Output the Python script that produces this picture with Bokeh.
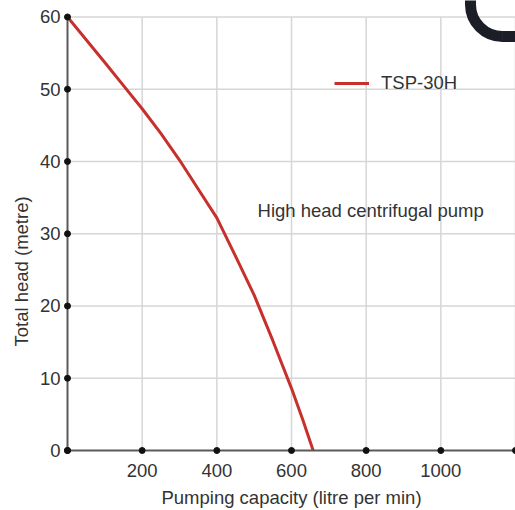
import math
from bokeh.plotting import figure
from bokeh.models import Range1d, FixedTicker, Label, Legend, LegendItem, Title
from bokeh.embed import file_html
from bokeh.resources import INLINE

# ---- data ----
capacity = [0, 100, 150, 200, 250, 300, 350, 400, 450, 500, 550, 600, 630, 658]
head = [60, 53.7, 50.5, 47.3, 43.9, 40.2, 36.2, 32.2, 26.9, 21.5, 15.2, 8.6, 4.3, 0]
x_label_ticks = [200, 400, 600, 800, 1000]
x_ticks = [0, 200, 400, 600, 800, 1000, 1200]
y_ticks = [0, 10, 20, 30, 40, 50, 60]
series_name = "TSP-30H"
note = "High head centrifugal pump"
x_title = "Pumping capacity (litre per min)"
y_title = "Total head (metre)"

FONT = "Liberation Sans"
FS = "18.5px"
TXT = "#333333"

p = figure(width=515, height=510, output_backend="svg", toolbar_location=None,
           x_range=Range1d(0, 1200), y_range=Range1d(0, 62.28),
           min_border_left=67, min_border_right=0, min_border_top=0,
           min_border_bottom=60)
p.outline_line_color = None
p.xgrid.visible = False
p.ygrid.visible = False

# grid lines limited to the data box
p.segment(x0=0, x1=1200, y0=y_ticks[1:], y1=y_ticks[1:],
          line_color="#d6d6d6", line_width=1.5)
p.segment(x0=x_ticks[1:], x1=x_ticks[1:], y0=0, y1=60,
          line_color="#d6d6d6", line_width=1.5)

# decorative dark ring fragment (top right)
ring = "#1b1e26"
p.arc(x=1165.2, y=61.73, radius=32, radius_units="screen",
      start_angle=math.pi, end_angle=1.5 * math.pi,
      line_color=ring, line_width=11)
p.segment(x0=1164, x1=1210, y0=57.3, y1=57.3, line_color=ring, line_width=11)
p.segment(x0=1079.5, x1=1079.5, y0=61.6, y1=64, line_color=ring, line_width=11)

line = p.line(capacity, head, line_color="#c8302c", line_width=3)

# tick dots
p.scatter(x=x_ticks, y=0, size=6, color="#111111", level="overlay")
p.scatter(x=0, y=y_ticks, size=6, color="#111111", level="overlay")

p.xaxis.ticker = FixedTicker(ticks=x_label_ticks)
p.yaxis.ticker = FixedTicker(ticks=y_ticks)
p.yaxis.bounds = (0, 60)
for ax in (p.xaxis[0], p.yaxis[0]):
    ax.major_tick_line_color = None
    ax.minor_tick_line_color = None
    ax.major_tick_out = 0
    ax.minor_tick_out = 0
    ax.major_tick_in = 0
    ax.minor_tick_in = 0
    ax.axis_line_color = "#5a5a5a"
    ax.axis_line_width = 2
    ax.major_label_text_font = FONT
    ax.major_label_text_font_size = FS
    ax.major_label_text_color = TXT
p.xaxis.major_label_standoff = 13
p.yaxis.major_label_standoff = 7

p.xaxis.axis_label = x_title
p.xaxis.axis_label_text_font = FONT
p.xaxis.axis_label_text_font_size = FS
p.xaxis.axis_label_text_font_style = "normal"
p.xaxis.axis_label_text_color = TXT
p.xaxis.axis_label_standoff = 7

yt = Title(text=y_title, align="left", offset=104, text_font=FONT,
           text_font_size=FS, text_font_style="normal", text_color=TXT)
p.add_layout(yt, "left")

legend = Legend(items=[LegendItem(label=series_name, renderers=[line])],
                location=(267, 356), glyph_width=35, glyph_height=20,
                label_height=20, label_standoff=12, padding=0, margin=0,
                spacing=0, border_line_color=None, background_fill_alpha=0,
                label_text_font=FONT, label_text_font_size=FS,
                label_text_color=TXT)
p.add_layout(legend)

p.add_layout(Label(x=509, y=33.2, text=note, text_baseline="middle",
                   text_font=FONT, text_font_size=FS, text_color=TXT))

open("out.html", "w").write(file_html(p, INLINE))
